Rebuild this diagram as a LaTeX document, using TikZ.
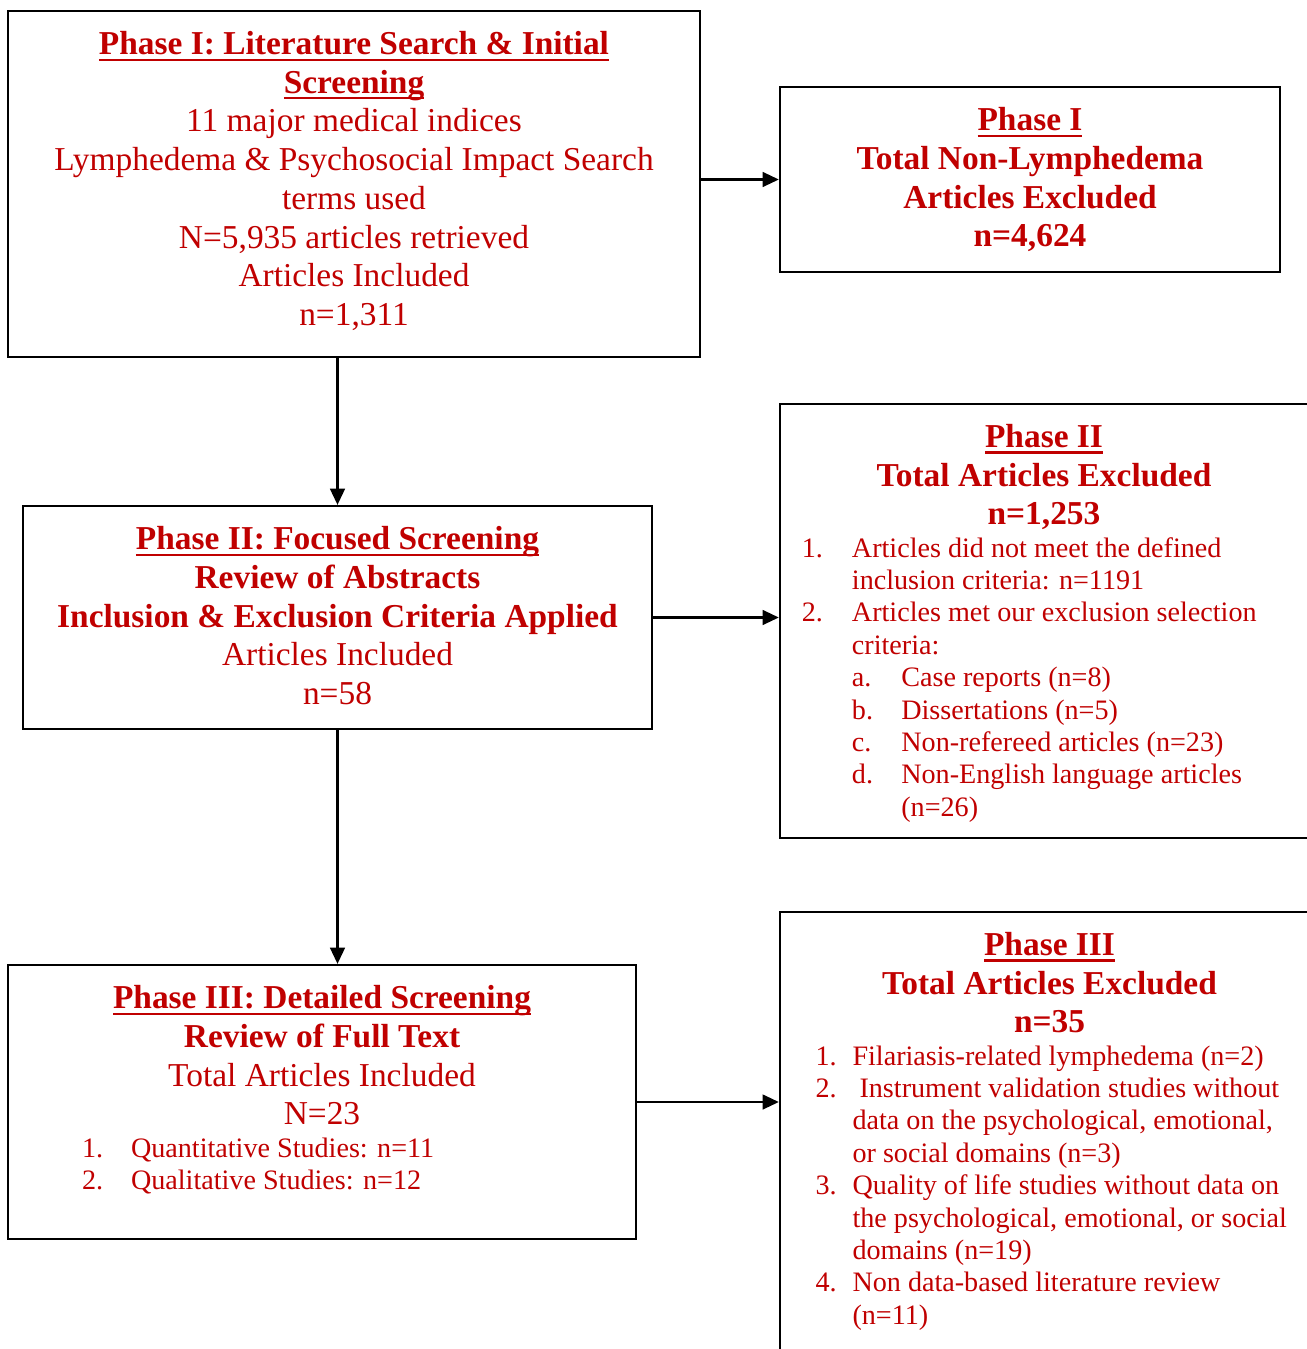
\documentclass[tikz,border=0pt]{standalone}
\usepackage{fontspec}
\setmainfont{Liberation Serif}
\usepackage{array}
\usetikzlibrary{arrows.meta,positioning}
\definecolor{TxtRed}{RGB}{192,0,0}
\newcommand{\headfont}{\fontsize{9.5}{11}\selectfont}
\newcommand{\listfont}{\fontsize{8}{9.2}\selectfont}
\newsavebox{\ulbox}
\newcommand{\phaseul}[1]{%
  \sbox{\ulbox}{\textbf{#1}}%
  \rlap{\rule[-1.7pt]{\wd\ulbox}{0.6pt}}\usebox{\ulbox}}

\begin{document}
\begin{tikzpicture}[
  x=0.01cm, y=-0.01cm,
  >={Triangle[length=4.6pt,width=4.2pt]},
  line join=miter,
  phasebox/.style={draw=black, line width=0.6pt, inner sep=0pt},
  headtxt/.style={inner sep=0pt, text=TxtRed, font=\headfont},
  listtxt/.style={inner sep=0pt, text=TxtRed, font=\listfont, anchor=north west},
  flow/.style={->, line width=0.6pt}
]
  \useasboundingbox (0,0) rectangle (1306,1349);

  % Boxes (left column: screening phases, right column: exclusions)
  \node[phasebox, minimum width=6.92cm, minimum height=3.46cm] (box1)  at (354,184)    {};
  \node[phasebox, minimum width=6.29cm, minimum height=2.23cm] (box2)  at (337.5,617.5) {};
  \node[phasebox, minimum width=6.28cm, minimum height=2.74cm] (box3)  at (322,1102)   {};
  \node[phasebox, minimum width=5.00cm, minimum height=1.85cm] (excl1) at (1030,179.5) {};
  \node[phasebox, minimum width=5.28cm, minimum height=4.34cm] (excl2) at (1044,621)   {};
  \node[phasebox, minimum width=5.39cm, minimum height=4.68cm] (excl3) at (1049.5,1146) {};

  % Phase I
  \node[headtxt, below=0.17cm of box1.north] (box1-head) {%
    \begin{tabular}{@{}c@{}}
      \phaseul{Phase I: Literature Search \& Initial}\\
      \phaseul{Screening}\\
      11 major medical indices\\
      Lymphedema \& Psychosocial Impact Search\\
      terms used\\
      N=5,935 articles retrieved\\
      Articles Included\\
      n=1,311
    \end{tabular}};
  \node[headtxt, below=0.17cm of excl1.north] (excl1-head) {%
    \begin{tabular}{@{}c@{}}
      \phaseul{Phase I}\\
      \textbf{Total Non-Lymphedema}\\
      \textbf{Articles Excluded}\\
      \textbf{n=4,624}
    \end{tabular}};

  % Phase II
  \node[headtxt, below=0.17cm of box2.north] (box2-head) {%
    \begin{tabular}{@{}c@{}}
      \phaseul{Phase II: Focused Screening}\\
      \textbf{Review of Abstracts}\\
      \textbf{Inclusion \& Exclusion Criteria Applied}\\
      Articles Included\\
      n=58
    \end{tabular}};
  \node[headtxt, below=0.17cm of excl2.north] (excl2-head) {%
    \begin{tabular}{@{}c@{}}
      \phaseul{Phase II}\\
      \textbf{Total Articles Excluded}\\
      \textbf{n=1,253}
    \end{tabular}};
  \node[listtxt, below right=1.31cm and 0.224cm of excl2.north west] (excl2-list) {%
    \begin{tabular}{@{}p{0.5cm}@{}l@{}}
      1. & Articles did not meet the defined\\
         & inclusion criteria: n=1191\\
      2. & Articles met our exclusion selection\\
         & criteria:\\
         & \makebox[0.494cm][l]{a.}Case reports (n=8)\\
         & \makebox[0.494cm][l]{b.}Dissertations (n=5)\\
         & \makebox[0.494cm][l]{c.}Non-refereed articles (n=23)\\
         & \makebox[0.494cm][l]{d.}Non-English language articles\\
         & \hspace{0.494cm}(n=26)
    \end{tabular}};

  % Phase III
  \node[headtxt, below=0.17cm of box3.north] (box3-head) {%
    \begin{tabular}{@{}c@{}}
      \phaseul{Phase III: Detailed Screening}\\
      \textbf{Review of Full Text}\\
      Total Articles Included\\
      N=23
    \end{tabular}};
  \node[listtxt, below right=1.70cm and 0.745cm of box3.north west] (box3-list) {%
    \begin{tabular}{@{}p{0.49cm}@{}l@{}}
      1. & Quantitative Studies: n=11\\
      2. & Qualitative Studies: n=12
    \end{tabular}};
  \node[headtxt, below=0.17cm of excl3.north] (excl3-head) {%
    \begin{tabular}{@{}c@{}}
      \phaseul{Phase III}\\
      \textbf{Total Articles Excluded}\\
      \textbf{n=35}
    \end{tabular}};
  \node[listtxt, below right=1.31cm and 0.36cm of excl3.north west] (excl3-list) {%
    \begin{tabular}{@{}p{0.37cm}@{}l@{}}
      1. & Filariasis-related lymphedema (n=2)\\
      2. & \ Instrument validation studies without\\
         & data on the psychological, emotional,\\
         & or social domains (n=3)\\
      3. & Quality of life studies without data on\\
         & the psychological, emotional, or social\\
         & domains (n=19)\\
      4. & Non data-based literature review\\
         & (n=11)
    \end{tabular}};

  % Flow arrows
  \draw[flow] (box1.east |- excl1) -- (excl1);
  \draw[flow] (box1.south -| box2.north) -- (box2.north);
  \draw[flow] (box2.east) -- (box2.east -| excl2.west);
  \draw[flow] (box2.south) -- (box2.south |- box3.north);
  \draw[flow] (box3.east) -- (box3.east -| excl3.west);
\end{tikzpicture}
\end{document}
